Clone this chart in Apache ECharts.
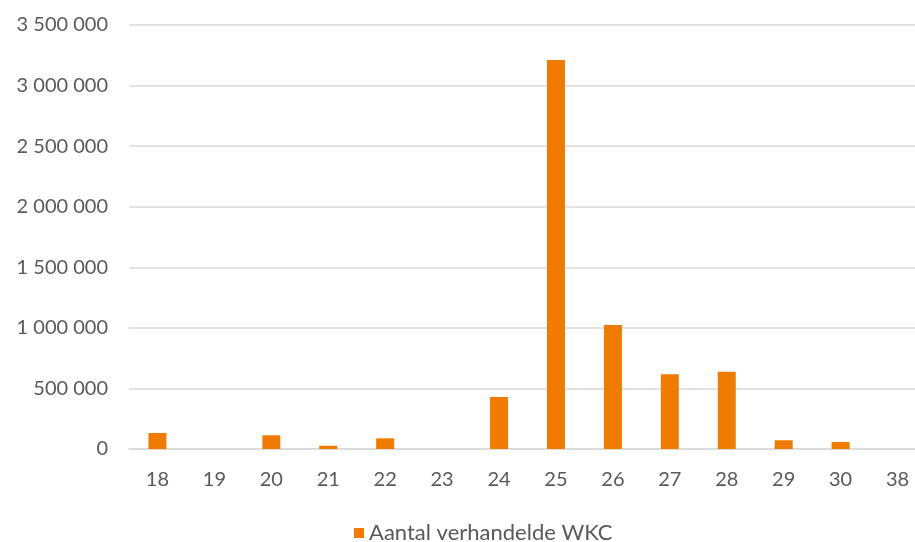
<!DOCTYPE html>
<html>
<head>
<meta charset="utf-8">
<script src="https://cdn.jsdelivr.net/npm/echarts@6/dist/echarts.min.js"></script>
<style>
  html, body { margin: 0; padding: 0; background: #fff; }
  #main { width: 915px; height: 542px; }
</style>
</head>
<body>
<div id="main"></div>
<script>
  // categorieen (x-as)
  const categories = ['18', '19', '20', '21', '22', '23', '24', '25', '26', '27', '28', '29', '30', '38'];
  // aantal verhandelde WKC per categorie
  const wkcValues = [132000, 0, 113000, 27000, 88000, 0, 429000, 3211000, 1024000, 617000, 638000, 72000, 58000, 0];
  const seriesName = 'Aantal verhandelde WKC';

  function fmt(v) {
    return String(v).replace(/\B(?=(\d{3})+(?!\d))/g, ' ');
  }

  const myChart = echarts.init(document.getElementById('main'));
  myChart.setOption({
    animation: false,
    textStyle: { fontFamily: 'Lato, "Open Sans", sans-serif' },
    grid: { left: 129, top: 25, width: 797, bottom: 93, containLabel: false, outerBoundsMode: 'none' },
    legend: {
      top: 517,
      left: 349,
      itemWidth: 10,
      itemHeight: 10,
      itemGap: 9,
      icon: 'rect',
      textStyle: { color: '#595959', fontSize: 22 },
      data: [seriesName]
    },
    xAxis: {
      type: 'category',
      data: categories,
      axisLine: { show: true, lineStyle: { color: '#d9d9d9', width: 1.5 } },
      axisTick: { show: false },
      axisLabel: { color: '#595959', fontSize: 20, margin: 21 }
    },
    yAxis: {
      type: 'value',
      min: 0,
      max: 3500000,
      interval: 500000,
      axisLine: { show: false },
      axisTick: { show: false },
      splitLine: { lineStyle: { color: '#d9d9d9', width: 1.5 } },
      axisLabel: { color: '#595959', fontSize: 20, margin: 21, formatter: fmt }
    },
    series: [{
      name: seriesName,
      type: 'bar',
      data: wkcValues,
      barWidth: 18,
      itemStyle: { color: '#EF7B00' }
    }]
  });
</script>
</body>
</html>
